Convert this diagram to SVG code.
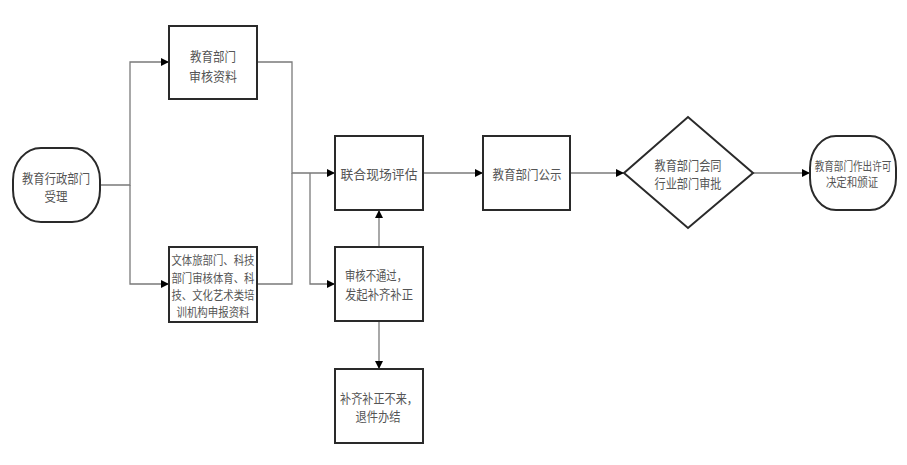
<svg xmlns="http://www.w3.org/2000/svg" width="907" height="465" viewBox="0 0 907 465">
<style>
.box{fill:#fff;stroke:#2a2a2a;stroke-width:2}
.con{fill:none;stroke:#7a7a7a;stroke-width:1.3}
.t{font-family:"Noto Sans CJK SC","Noto Sans",sans-serif;font-size:13px;fill:#555;text-anchor:middle;dominant-baseline:central}
.s{font-size:12px}
</style>
<defs>
<marker id="ah" viewBox="0 0 10 10" refX="10" refY="5" markerWidth="8" markerHeight="8" markerUnits="userSpaceOnUse" orient="auto">
<path d="M0,0 L10,5 L0,10 Z" fill="#000"/>
</marker>
</defs>
<rect width="907" height="465" fill="#fff"/>
<g id="connectors">
<path class="con" d="M100,185 H130 V62 H169" marker-end="url(#ah)"/>
<path class="con" d="M130,185 V284 H169" marker-end="url(#ah)"/>
<path class="con" d="M257,62 H292 V173 H335" marker-end="url(#ah)"/>
<path class="con" d="M257,284 H292 V173"/>
<path class="con" d="M310,173 V284 H335" marker-end="url(#ah)"/>
<path class="con" d="M379,247 V210" marker-end="url(#ah)"/>
<path class="con" d="M379,321 V369" marker-end="url(#ah)"/>
<path class="con" d="M423,173 H483" marker-end="url(#ah)"/>
<path class="con" d="M570,173 H624" marker-end="url(#ah)"/>
<path class="con" d="M753,173 H810" marker-end="url(#ah)"/>
</g>
<g id="start">
<rect class="box" x="13" y="148" width="87" height="74" rx="28" ry="32"/>
<text class="t" x="56" y="177" textLength="68" lengthAdjust="spacingAndGlyphs">教育行政部门</text>
<text class="t" x="56" y="195" textLength="23" lengthAdjust="spacingAndGlyphs">受理</text>
</g>
<g id="edu-review">
<rect class="box" x="169" y="26" width="88" height="73"/>
<text class="t" x="213" y="55" font-size="14" textLength="46" lengthAdjust="spacingAndGlyphs">教育部门</text>
<text class="t" x="213" y="75" font-size="14" textLength="48" lengthAdjust="spacingAndGlyphs">审核资料</text>
</g>
<g id="other-review">
<rect class="box" x="169" y="247" width="88" height="75"/>
<text class="t s" x="213" y="259" textLength="83" lengthAdjust="spacingAndGlyphs">文体旅部门、科技</text>
<text class="t s" x="213" y="277" textLength="83" lengthAdjust="spacingAndGlyphs">部门审核体育、科</text>
<text class="t s" x="213" y="294" textLength="83" lengthAdjust="spacingAndGlyphs">技、文化艺术类培</text>
<text class="t s" x="213" y="311" textLength="73" lengthAdjust="spacingAndGlyphs">训机构申报资料</text>
</g>
<g id="joint-eval">
<rect class="box" x="335" y="136" width="88" height="74"/>
<text class="t" x="379" y="173" font-size="15" textLength="77" lengthAdjust="spacingAndGlyphs">联合现场评估</text>
</g>
<g id="reject">
<rect class="box" x="335" y="247" width="88" height="74"/>
<text class="t" x="376" y="274" textLength="62" lengthAdjust="spacingAndGlyphs">审核不通过，</text>
<text class="t" x="379" y="293" textLength="68" lengthAdjust="spacingAndGlyphs">发起补齐补正</text>
</g>
<g id="withdraw">
<rect class="box" x="335" y="369" width="88" height="74"/>
<text class="t" x="379" y="397" textLength="78" lengthAdjust="spacingAndGlyphs">补齐补正不来，</text>
<text class="t" x="378" y="415" textLength="45" lengthAdjust="spacingAndGlyphs">退件办结</text>
</g>
<g id="publicity">
<rect class="box" x="483" y="136" width="87" height="74"/>
<text class="t" x="527" y="173" textLength="69" lengthAdjust="spacingAndGlyphs">教育部门公示</text>
</g>
<g id="approval">
<polygon class="box" points="624,173 688,117 753,173 688,228"/>
<text class="t" x="688" y="164" textLength="67" lengthAdjust="spacingAndGlyphs">教育部门会同</text>
<text class="t" x="688" y="182" textLength="67" lengthAdjust="spacingAndGlyphs">行业部门审批</text>
</g>
<g id="end">
<rect class="box" x="810" y="136" width="86" height="74" rx="26" ry="32"/>
<text class="t s" transform="translate(853,165) scale(0.8,1)">教育部门作出许可</text>
<text class="t s" transform="translate(852,182) scale(0.87,1)">决定和颁证</text>
</g>
</svg>
